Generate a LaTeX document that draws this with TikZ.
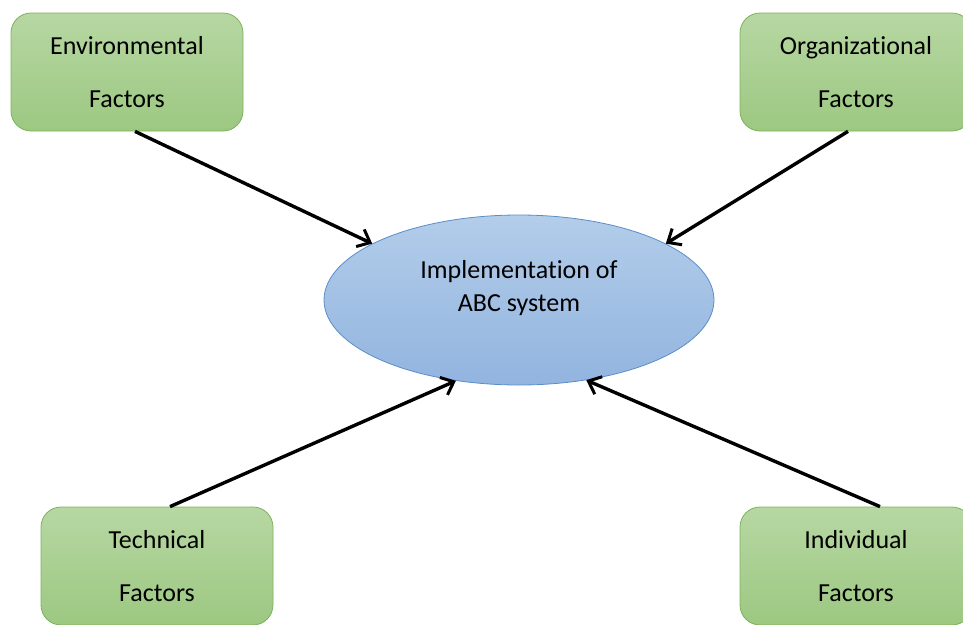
\documentclass[tikz,border=0pt]{standalone}
\usepackage{fontspec}
\setmainfont{Carlito}[RawFeature={-liga;-calt;-dlig;-clig}]
\usetikzlibrary{arrows.meta,shapes.geometric}
\definecolor{gtop}{HTML}{B7D7A3}
\definecolor{gbot}{HTML}{9CC881}
\definecolor{gdraw}{HTML}{7DB25C}
\definecolor{btop}{HTML}{B3CDEA}
\definecolor{bbot}{HTML}{92B4DF}
\definecolor{bdraw}{HTML}{5B8DC9}
\tikzset{
  factor/.style={draw=gdraw, line width=0.8pt, rounded corners=20pt, top color=gtop, bottom color=gbot,
    minimum width=232pt, minimum height=118pt, inner sep=0pt, align=center, font=\fontsize{26}{31}\selectfont},
  core/.style={ellipse, draw=bdraw, line width=0.8pt, top color=btop, bottom color=bbot,
    minimum width=390pt, minimum height=170pt, inner sep=0pt},
  coretext/.style={align=center, font=\fontsize{26}{33}\selectfont},
  link/.style={line width=3.4pt, -{Straight Barb[length=11pt, width=19pt, line width=3pt]}}
}
\begin{document}
\begin{tikzpicture}[x=1pt, y=-1pt]
\useasboundingbox (0,0) rectangle (963,624);
\node[factor] (env) at (127,72) {Environmental\\[22pt]Factors};
\node[factor] (org) at (856,72) {Organizational\\[22pt]Factors};
\node[factor] (tech) at (157,566) {Technical\\[22pt]Factors};
\node[factor] (ind) at (856,566) {Individual\\[22pt]Factors};
\node[core] (ell) at (519,300) {};
\node[coretext] (lbl) at (519,288) {Implementation of\\ABC system};
\draw[link] ([xshift=8pt]env.south) -- (ell.159);
\draw[link] ([xshift=-8pt]org.south) -- (ell.21);
\draw[link] ([xshift=13pt]tech.north) -- (ell.232);
\draw[link] ([xshift=24pt]ind.north) -- (ell.310);
\end{tikzpicture}
\end{document}
